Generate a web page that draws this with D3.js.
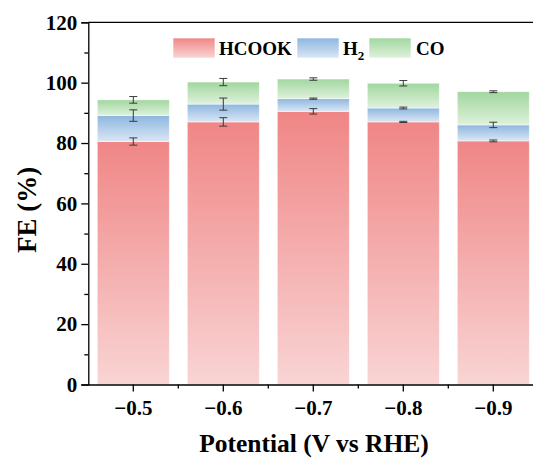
<!DOCTYPE html>
<html><head><meta charset="utf-8">
<script src="https://cdn.jsdelivr.net/npm/d3@7"></script>
<style>body{margin:0;background:#fff}svg{display:block}</style>
</head><body>
<script>
const categories = ["\u22120.5","\u22120.6","\u22120.7","\u22120.8","\u22120.9"];
const seriesNames = ["HCOOK","H2","CO"];
const hcook = [80.5, 87.0, 90.5, 87.0, 80.7];
const h2 = [8.6, 5.9, 4.2, 4.6, 5.3];
const co = [5.2, 7.3, 6.5, 8.2, 11.0];
const hcookErr = [1.2, 1.4, 0.9, 0.2, 0.3];
const h2Err = [1.9, 2.0, 0.2, 0.3, 0.9];
const coErr = [1.1, 1.2, 0.4, 0.9, 0.3];
const yTicks = [0, 20, 40, 60, 80, 100, 120];

const W = 533, H = 459;
const L = 88.3, T = 22.3, B = 384.5, R = 538.3;
const svg = d3.select("body").append("svg").attr("width", W).attr("height", H);
const defs = svg.append("defs");
const colors = [
  {id:"gR", top:"#f08686", bot:"#f9d4d4"},
  {id:"gB", top:"#8db6df", bot:"#dae7f5"},
  {id:"gG", top:"#a2d69f", bot:"#def2dc"}
];
colors.forEach(c => {
  const g = defs.append("linearGradient").attr("id", c.id).attr("x1",0).attr("y1",0).attr("x2",0).attr("y2",1);
  g.append("stop").attr("offset","0%").attr("stop-color", c.top);
  g.append("stop").attr("offset","100%").attr("stop-color", c.bot);
});

const x = d3.scaleBand().domain(categories).range([L, R]).paddingInner(0.2).paddingOuter(0.1);
const xb = d3.scaleBand().domain(categories).range([L, R]);
const y = d3.scaleLinear().domain([0, 120]).range([B, T]);

const vals = [hcook, h2, co];
const errs = [hcookErr, h2Err, coErr];
const gids = ["gR","gB","gG"];

categories.forEach((c, i) => {
  let base = 0;
  vals.forEach((s, k) => {
    const top = base + s[i];
    svg.append("rect")
      .attr("x", x(c)).attr("width", x.bandwidth())
      .attr("y", y(top)).attr("height", y(base) - y(top))
      .attr("fill", `url(#${gids[k]})`)
      .attr("stroke", "#ffffff").attr("stroke-opacity", 0.6).attr("stroke-width", 0.8);
    base = top;
  });
});
// error bars
categories.forEach((c, i) => {
  let base = 0;
  const cx = x(c) + x.bandwidth() / 2;
  vals.forEach((s, k) => {
    const top = base + s[i];
    const e = errs[k][i];
    const g = svg.append("g").attr("stroke", "#3a3a3a").attr("stroke-width", 1);
    g.append("line").attr("x1", cx).attr("x2", cx).attr("y1", y(top - e)).attr("y2", y(top + e));
    g.append("line").attr("x1", cx - 4).attr("x2", cx + 4).attr("y1", y(top - e)).attr("y2", y(top - e));
    g.append("line").attr("x1", cx - 4).attr("x2", cx + 4).attr("y1", y(top + e)).attr("y2", y(top + e));
    base = top;
  });
});

const font = "'Liberation Serif','Times New Roman',serif";
// frame
svg.append("line").attr("x1", L).attr("x2", R).attr("y1", T).attr("y2", T).attr("stroke", "#000").attr("stroke-width", 1.3);
svg.append("line").attr("x1", R).attr("x2", R).attr("y1", T).attr("y2", B).attr("stroke", "#000").attr("stroke-width", 1.3);

// y axis
const yAxis = svg.append("g").attr("transform", `translate(${L},0)`)
  .call(d3.axisLeft(y).tickValues(yTicks).tickSize(7).tickPadding(4).tickFormat(d3.format("d")));
yAxis.selectAll("text").attr("font-family", font).attr("font-weight", "bold").attr("font-size", 21).attr("fill", "#000");
yAxis.select(".domain").attr("stroke-width", 1.3);
yAxis.selectAll(".tick line").attr("stroke-width", 1.3);
const yMinor = svg.append("g").attr("transform", `translate(${L},0)`)
  .call(d3.axisLeft(y).tickValues([10,30,50,70,90,110]).tickSize(4).tickFormat(""));
yMinor.select(".domain").remove();
yMinor.selectAll(".tick line").attr("stroke-width", 1.3);

// x axis
const xAxis = svg.append("g").attr("transform", `translate(0,${B})`)
  .call(d3.axisBottom(xb).tickSize(7).tickPadding(9).tickSizeOuter(0));
xAxis.selectAll("text").attr("font-family", font).attr("font-weight", "bold").attr("font-size", 21).attr("fill", "#000");
xAxis.select(".domain").attr("stroke-width", 1.3);
xAxis.selectAll(".tick line").attr("stroke-width", 1.3);
const xMinor = svg.append("g").attr("transform", `translate(0,${B})`);
categories.slice(1).forEach(c => {
  xMinor.append("line").attr("x1", xb(c)).attr("x2", xb(c)).attr("y1", 0).attr("y2", 4).attr("stroke", "#000").attr("stroke-width", 1.3);
});

// titles
svg.append("text").attr("x", 314).attr("y", 452).attr("text-anchor", "middle")
  .attr("font-family", font).attr("font-weight", "bold").attr("font-size", 25.5).text("Potential (V vs RHE)");
svg.append("text").attr("transform", "translate(36,210) rotate(-90)").attr("text-anchor", "middle")
  .attr("font-family", font).attr("font-weight", "bold").attr("font-size", 27).text("FE (%)");

// legend
const leg = [
  {g:"gR", x:173, tx:219, label:"HCOOK"},
  {g:"gB", x:297, tx:343, label:"H", sub:"2"},
  {g:"gG", x:369, tx:416, label:"CO"}
];
leg.forEach((d, i) => {
  svg.append("rect").attr("x", d.x).attr("y", 38).attr("width", 42).attr("height", 20)
    .attr("fill", `url(#${d.g})`).attr("stroke", "#fff").attr("stroke-opacity", 0.6);
  const t = svg.append("text").attr("x", d.tx).attr("y", 55)
    .attr("font-family", font).attr("font-weight", "bold").attr("font-size", 19).text(seriesNames[i] === "H2" ? "H" : seriesNames[i]);
  if (d.sub) t.append("tspan").attr("font-size", 13).attr("dy", 5).text(d.sub);
});
</script>
</body></html>
